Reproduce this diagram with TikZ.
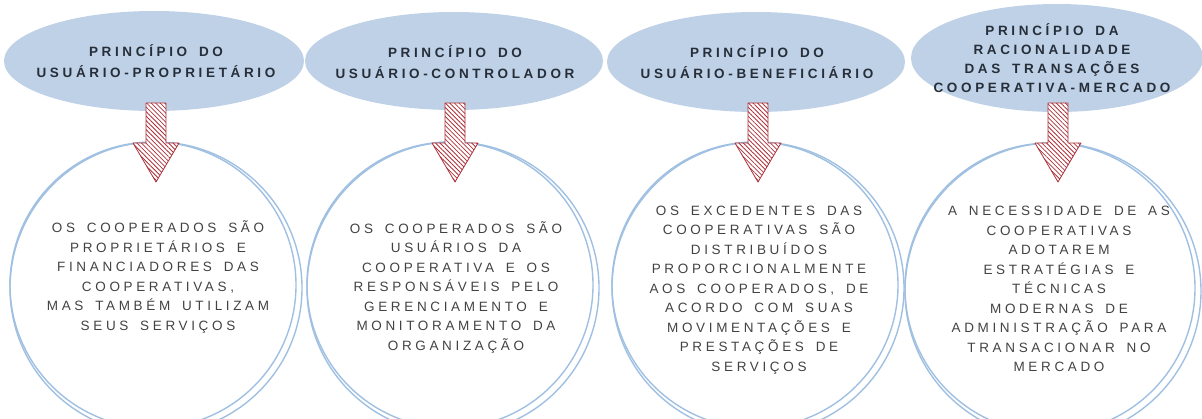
\documentclass[tikz,border=0pt]{standalone}
\usepackage{fontspec}
\setmainfont{Liberation Sans}
\newfontfamily\headfont[LetterSpace=27,WordSpace=1.6]{Liberation Sans}
\newfontfamily\bodyfont[LetterSpace=27,WordSpace=1.6]{Liberation Sans}
\usetikzlibrary{patterns.meta}

\definecolor{blobblue}{RGB}{191,209,230}
\definecolor{ringblue}{RGB}{160,192,226}
\definecolor{arrowred}{RGB}{172,50,58}
\definecolor{headtext}{RGB}{38,46,58}
\definecolor{bodytext}{RGB}{66,66,66}

\tikzset{
  principle/.style={inner sep=0pt, text=headtext, align=center,
    font=\headfont\bfseries\fontsize{13.5}{21}\selectfont},
  blob/.style={fill=blobblue},
  ring/.style={circle, draw=ringblue, line width=1.4pt, inner sep=0pt, minimum size=286pt},
  ringtext/.style={text=bodytext, align=center, font=\bodyfont\fontsize{13.5}{19.5}\selectfont},
  downarrow/.style={draw=arrowred, line width=0.8pt, fill=white,
    postaction={pattern={Lines[angle=-45,distance=3.2pt,line width=0.8pt]}, pattern color=arrowred}},
}

\begin{document}
\begin{tikzpicture}[line cap=round,line join=round,x=1pt,y=-1pt]
\useasboundingbox (0,0) rectangle (1202,418);
% blobs
\fill[blob] (154,61) ellipse [x radius=150, y radius=50];
\fill[blob] (454,61) ellipse [x radius=149, y radius=49];
\fill[blob] (756,62) ellipse [x radius=149, y radius=50];
\fill[blob] (1057,58) ellipse [x radius=146, y radius=54];
% principles
\node[principle] (p1) at (156,61) {PRINCÍPIO DO\\USUÁRIO-PROPRIETÁRIO};
\node[principle] (p2) at (455,62) {PRINCÍPIO DO\\USUÁRIO-CONTROLADOR};
\node[principle] (p3) at (757,62) {PRINCÍPIO DO\\USUÁRIO-BENEFICIÁRIO};
\node[principle, font=\headfont\bfseries\fontsize{13.5}{18.8}\selectfont] (p4) at (1052,58)
  {PRINCÍPIO DA\\RACIONALIDADE\\DAS TRANSAÇÕES\\COOPERATIVA-MERCADO};
% circles (double outline)
\node[ring] (r1) at (153,285) {};
\node[ring, minimum size=292pt] (r1b) at (156,288) {};
\node[ring] (r2) at (450,285) {};
\node[ring, minimum size=292pt] (r2b) at (453,288) {};
\node[ring] (r3) at (755,285) {};
\node[ring, minimum size=292pt] (r3b) at (758,288) {};
\node[ring, minimum size=290pt] (r4) at (1050,288) {};
\node[ring, minimum size=296pt] (r4b) at (1053,291) {};
% arrows
\foreach \ax in {156,455,758,1058}
  \draw[downarrow] (\ax-10,103) -- (\ax+10,103) -- (\ax+10,143) -- (\ax+23,143)
    -- (\ax,182) -- (\ax-23,143) -- (\ax-10,143) -- cycle;
% texts
\node[ringtext] (t1) at (158,277) {OS COOPERADOS SÃO\\PROPRIETÁRIOS E\\FINANCIADORES DAS\\COOPERATIVAS,\\MAS TAMBÉM UTILIZAM\\SEUS SERVIÇOS};
\node[ringtext] (t2) at (456,287) {OS COOPERADOS SÃO\\USUÁRIOS DA\\COOPERATIVA E OS\\RESPONSÁVEIS PELO\\GERENCIAMENTO E\\MONITORAMENTO DA\\ORGANIZAÇÃO};
\node[ringtext] (t3) at (759,290) {OS EXCEDENTES DAS\\COOPERATIVAS SÃO\\DISTRIBUÍDOS\\PROPORCIONALMENTE\\AOS COOPERADOS, DE\\ACORDO COM SUAS\\MOVIMENTAÇÕES E\\PRESTAÇÕES DE\\SERVIÇOS};
\node[ringtext] (t4) at (1059,289) {A NECESSIDADE DE AS\\COOPERATIVAS\\ADOTAREM\\ESTRATÉGIAS E\\TÉCNICAS\\MODERNAS DE\\ADMINISTRAÇÃO PARA\\TRANSACIONAR NO\\MERCADO};
\end{tikzpicture}
\end{document}
